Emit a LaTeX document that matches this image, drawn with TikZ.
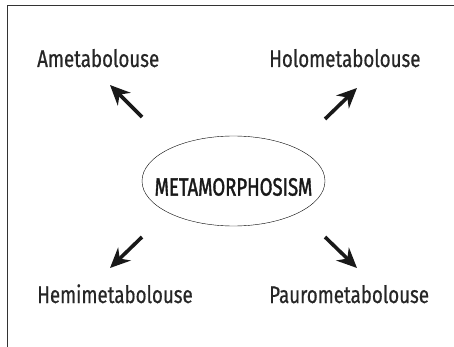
\documentclass[tikz,border=0pt]{standalone}
\usepackage{fontspec}
\newfontfamily\labelfont[FakeStretch=0.78,FakeBold=0.6]{Fira Sans}
\newfontfamily\titlefont[FakeStretch=0.74,FakeBold=1.4]{Fira Sans}
\usetikzlibrary{shapes.geometric, positioning, arrows.meta}

\begin{document}
\begin{tikzpicture}[x=1pt, y=-1pt,
        txt/.style={anchor=base west, inner sep=0pt, text=black!85,
                    font=\labelfont\fontsize{24}{24}\selectfont},
        arr/.style={-{Stealth[length=20pt,width=18pt]}, line width=3.6pt, black!90}]
        \useasboundingbox (0,0) rectangle (454,347);
        % frame
        \draw[line width=1pt, black!80] (7.3,347) -- (7.3,5.7) -- (454,5.7);
        % centre
        \node (meta) [draw, ellipse, minimum width=183pt, minimum height=90pt] at (233.5,181) {};
        \node (metalabel) [text=black!90, font=\titlefont\fontsize{25}{25}\selectfont]
            at ([yshift=-6pt]meta.center) {METAMORPHOSISM};
        % labels
        \node (ameta) [txt] at (37,67)   {Ametabolouse};
        \node (holo)  [txt] at (269,67)  {Holometabolouse};
        \node (hemi)  [txt] at (37,303)  {Hemimetabolouse};
        \node (pauro) [txt] at (269,303) {Paurometabolouse};
        % arrows
        \coordinate (ul1) at (142,117);  \coordinate (ul2) at (110,85);
        \coordinate (ur1) at (325,119);  \coordinate (ur2) at (357,88);
        \coordinate (ll1) at (142,237);  \coordinate (ll2) at (110,268);
        \coordinate (lr1) at (325,237);  \coordinate (lr2) at (357,268);
        \foreach \c in {ul, ur, ll, lr}
            \draw[arr] (\c1) -- (\c2);
\end{tikzpicture}
\end{document}
